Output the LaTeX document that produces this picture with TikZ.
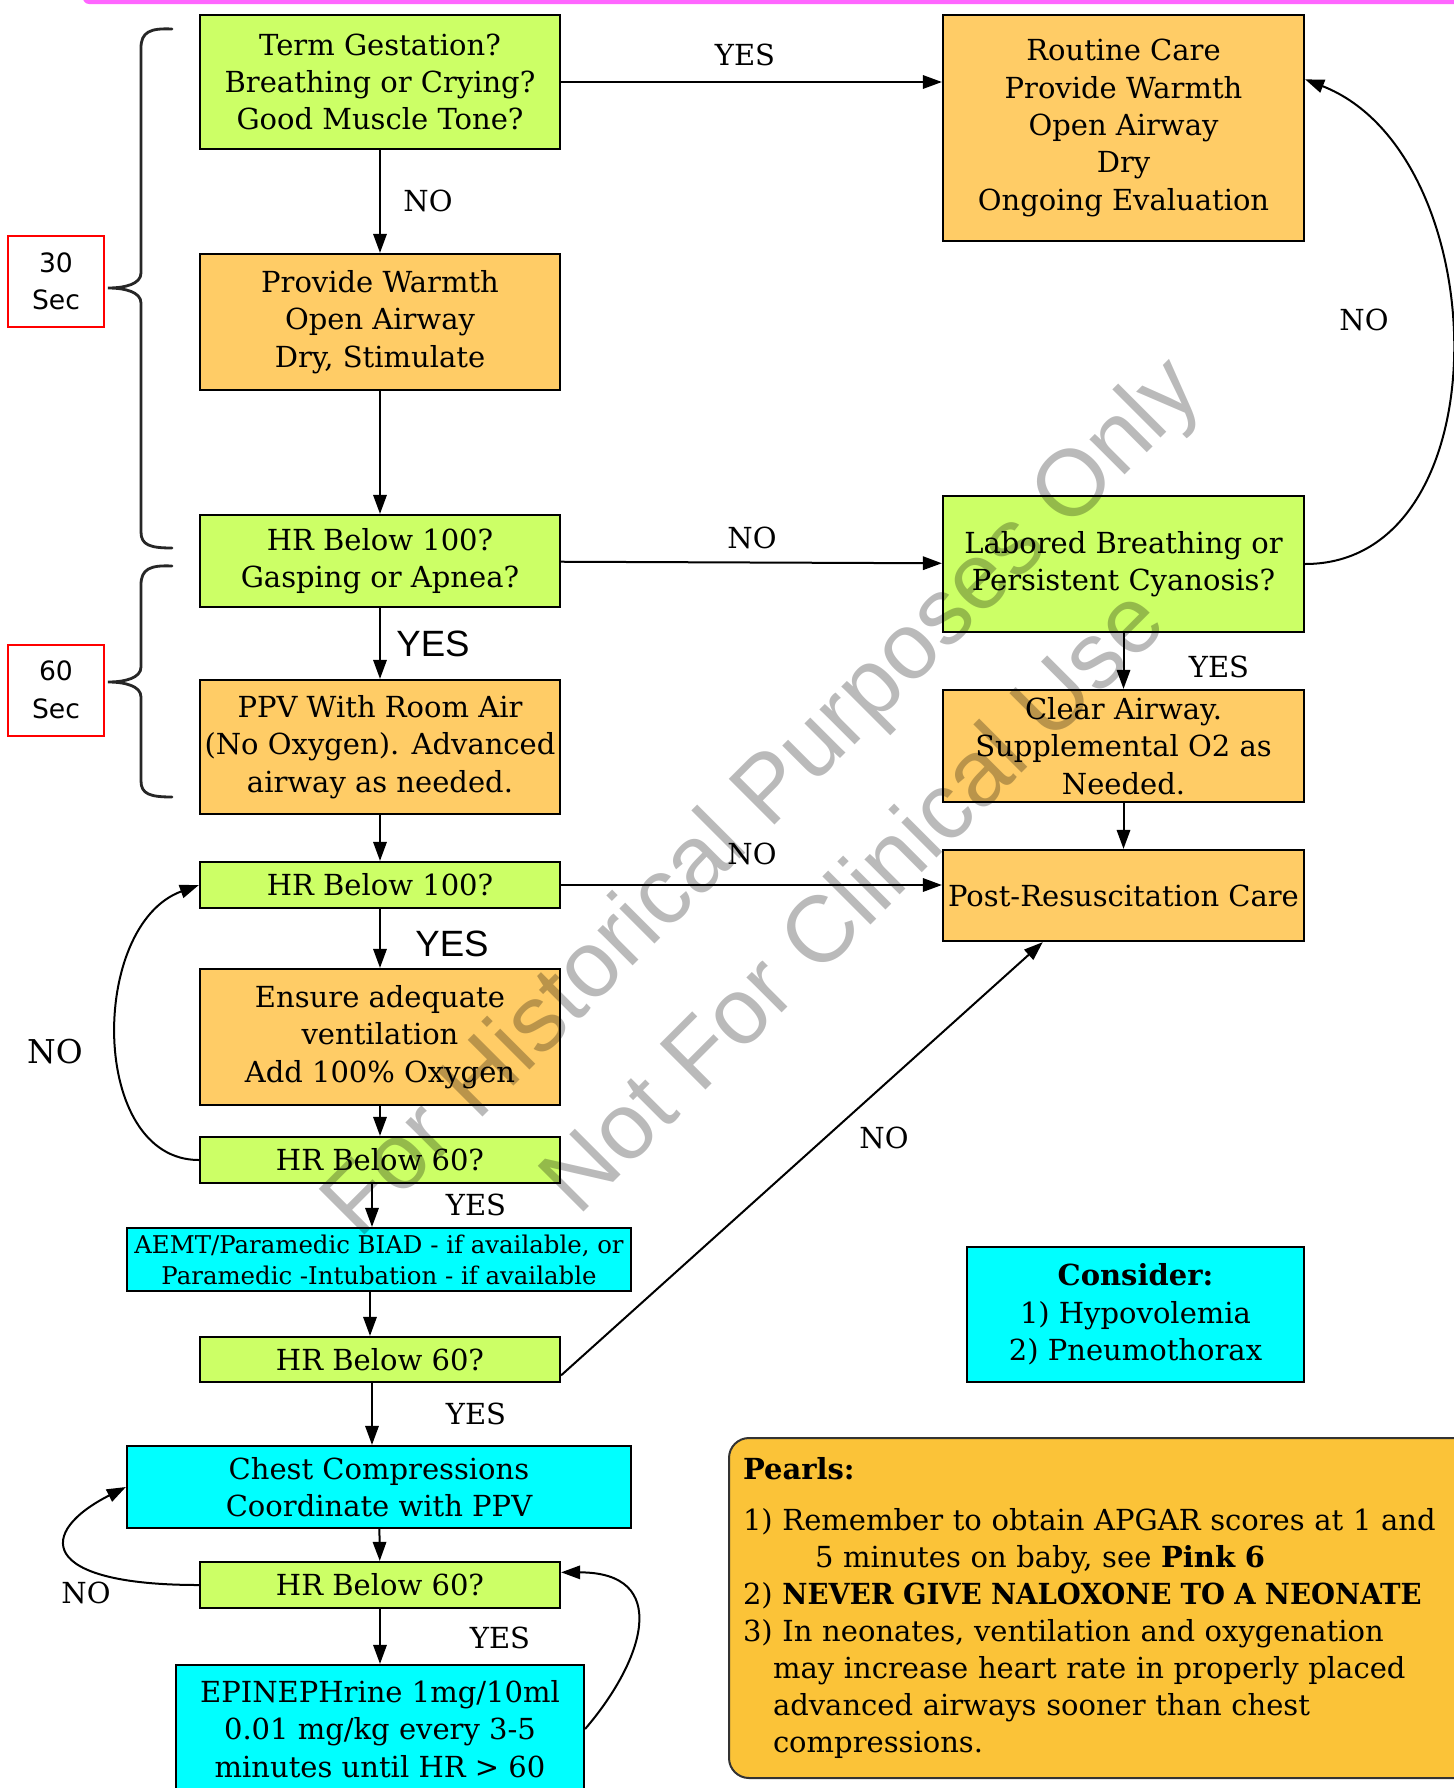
\documentclass[tikz,border=0pt]{standalone}
\usepackage{fontspec}
\setmainfont{DejaVu Serif}
\setsansfont{Liberation Sans}
\newfontfamily\secfont{DejaVu Sans}
\usetikzlibrary{arrows.meta}
\definecolor{askgreen}{HTML}{CCFF66}
\definecolor{actorange}{HTML}{FFCC66}
\definecolor{medcyan}{HTML}{00FFFF}
\definecolor{pearlgold}{HTML}{FBC338}
\definecolor{toppink}{HTML}{FF66FF}
\begin{document}
\begin{tikzpicture}[x=0.5pt, y=-0.5pt,
  box/.style={draw, line width=1.1pt, align=center, inner sep=0pt, minimum width=180pt,
    font=\fontsize{14.5}{18.7}\selectfont},
  ask/.style={box, fill=askgreen},
  act/.style={box, fill=actorange},
  med/.style={box, fill=medcyan},
  flow/.style={-{Triangle[length=9.5pt,width=6.7pt]}, line width=1pt},
  lab/.style={inner sep=1pt, font=\fontsize{14.5}{18.7}\selectfont},
  sanslab/.style={inner sep=1pt, font=\sffamily\fontsize{18.3}{22}\selectfont},
  secbox/.style={draw=red, line width=1pt, minimum width=48pt, minimum height=45.5pt,
    align=center, inner sep=0pt, font=\secfont\fontsize{13.3}{18.7}\selectfont},
  brace/.style={line width=1.4pt, black!85, line cap=round},
  wmark/.style={rotate=45, text=black, text opacity=0.27, font=\sffamily\fontsize{47}{56}\selectfont}]
\path[use as bounding box, fill=white] (0,0) rectangle (1453,1788);
\fill[toppink, rounded corners=3pt] (83,-20) rectangle (1470,4);

\node[ask, minimum height=67pt] (term) at (380,82) {Term Gestation?\\Breathing or Crying?\\Good Muscle Tone?};
\node[act, minimum width=180.5pt, minimum height=113pt] (routine) at (1123.5,128) {Routine Care\\Provide Warmth\\Open Airway\\Dry\\Ongoing Evaluation};
\node[act, minimum height=68pt] (warmth) at (380,322) {Provide Warmth\\Open Airway\\Dry, Stimulate};
\node[ask, minimum height=46pt] (hrA) at (380,561) {HR Below 100?\\Gasping or Apnea?};
\node[ask, minimum width=180.5pt, minimum height=68pt] (labored) at (1123.5,564) {Labored Breathing or\\Persistent Cyanosis?};
\node[act, minimum height=67pt] (ppv) at (380,747) {PPV With Room Air\\(No Oxygen). Advanced\\airway as needed.};
\node[act, minimum width=180.5pt, minimum height=56pt] (clear) at (1123.5,746) {Clear Airway.\\Supplemental O2 as\\Needed.};
\node[ask, minimum height=23pt] (hrB) at (380,885) {HR Below 100?};
\node[act, minimum width=180.5pt, minimum height=45.5pt] (post) at (1123.5,895.5) {Post-Resuscitation Care};
\node[act, minimum height=68pt] (ensure) at (380,1037) {Ensure adequate\\ventilation\\Add 100\% Oxygen};
\node[ask, minimum height=23pt] (hrC) at (380,1160) {HR Below 60?};
\node[med, minimum width=252pt, minimum height=31.5pt, font=\fontsize{12.2}{15.5}\selectfont] (aemt) at (379,1259.5) {AEMT/Paramedic BIAD - if available, or\\Paramedic -Intubation - if available};
\node[ask, minimum height=22.5pt] (hrD) at (380,1359.5) {HR Below 60?};
\node[med, minimum width=168.5pt, minimum height=67.5pt] (consider) at (1135.5,1314.5) {\textbf{Consider:}\\1) Hypovolemia\\2) Pneumothorax};
\node[med, minimum width=252pt, minimum height=41pt] (chest) at (379,1487) {Chest Compressions\\Coordinate with PPV};
\node[ask, minimum height=23pt] (hrE) at (380,1585) {HR Below 60?};
\node[med, minimum width=204pt, minimum height=64pt] (epi) at (380,1729) {EPINEPHrine 1mg/10ml\\0.01 mg/kg every 3-5\\minutes until HR > 60};

\node[draw=black!80, line width=1pt, fill=pearlgold, rounded corners=10pt, anchor=north west,
  minimum width=376pt, minimum height=170pt, text width=362pt, inner xsep=7pt, align=left,
  font=\fontsize{14.5}{18.5}\selectfont] (pearls) at (728,1437)
  {\textbf{Pearls:}\\[7pt]
   1) Remember to obtain APGAR scores at 1 and\\
   \hspace*{36pt}5 minutes on baby, see \textbf{Pink 6}\\
   2) \scalebox{0.95}[1]{\textbf{NEVER GIVE NALOXONE TO A NEONATE}}\\
   3) In neonates, ventilation and oxygenation\\
   \hspace*{15pt}may increase heart rate in properly placed\\
   \hspace*{15pt}advanced airways sooner than chest\\
   \hspace*{15pt}compressions.};

\node[secbox] (sec30) at (56,281.5) {30\\Sec};
\node[secbox] (sec60) at (56,690) {60\\Sec};
\draw[brace] (172,29) .. controls (150,28) and (141,32) .. (141,48) -- (141,273)
  .. controls (141,284) and (125,288) .. (108,288) .. controls (125,288) and (141,292) .. (141,303)
  -- (141,532) .. controls (141,545) and (150,548) .. (172,548);
\draw[brace] (172,566) .. controls (150,565) and (141,569) .. (141,585) -- (141,667)
  .. controls (141,678) and (125,682) .. (108,682) .. controls (125,682) and (141,686) .. (141,697)
  -- (141,781) .. controls (141,794) and (150,797) .. (172,797);

\draw[flow] (term.east) -- (term.east -| routine.west);
\draw[flow] (term) -- (warmth);
\draw[flow] (warmth) -- (hrA);
\draw[flow] (hrA) -- (labored);
\draw[flow] (hrA) -- (ppv);
\draw[flow] (labored.east) .. controls +(200,0) and +(192,75) .. (routine.15);
\draw[flow] (labored) -- (clear);
\draw[flow] (clear) -- (post);
\draw[flow] (ppv) -- (hrB);
\draw[flow] (hrB.east) -- (hrB.east -| post.west);
\draw[flow] (hrB) -- (ensure);
\draw[flow] (ensure) -- (hrC);
\draw[flow] (hrC.west) .. controls +(-110,0) and +(-110,40) .. (hrB.west);
\draw[flow] ([xshift=-4pt]hrC.south) -- ([xshift=-4pt]hrC.south |- aemt.north);
\draw[flow] ([xshift=-4.5pt]aemt.south) -- ([xshift=-4.5pt]aemt.south |- hrD.north);
\draw[flow] (hrD.-5) -- (post.-150);
\draw[flow] ([xshift=-4pt]hrD.south) -- ([xshift=-4pt]hrD.south |- chest.north);
\draw[flow] (chest) -- (hrE);
\draw[flow] (hrE.west) .. controls +(-162,0) and +(-89,45) .. (chest.west);
\draw[flow] (hrE) -- (epi);
\draw[flow] (epi.east) .. controls +(60,-70) and +(110,0) .. (hrE.4);

\node[lab] (yesA) at (745,55) {YES};
\node[lab] (noA) at (428,201) {NO};
\node[lab] (noB) at (752,538) {NO};
\node[sanslab] (yesB) at (433,644) {YES};
\node[lab] (noC) at (1364,320) {NO};
\node[lab] (yesC) at (1219,667) {YES};
\node[lab] (noD) at (752,854) {NO};
\node[sanslab] (yesD) at (452,944) {YES};
\node[lab, font=\fontsize{16.4}{20}\selectfont] (noE) at (55,1052) {NO};
\node[lab] (yesE) at (476,1205) {YES};
\node[lab] (noF) at (884,1138) {NO};
\node[lab] (yesF) at (476,1414) {YES};
\node[lab] (noG) at (86,1593) {NO};
\node[lab] (yesG) at (500,1638) {YES};

\node[wmark] (markA) at (765,800) {For Historical Purposes Only};
\node[wmark] (markB) at (850,898) {Not For Clinical Use};
\end{tikzpicture}
\end{document}
